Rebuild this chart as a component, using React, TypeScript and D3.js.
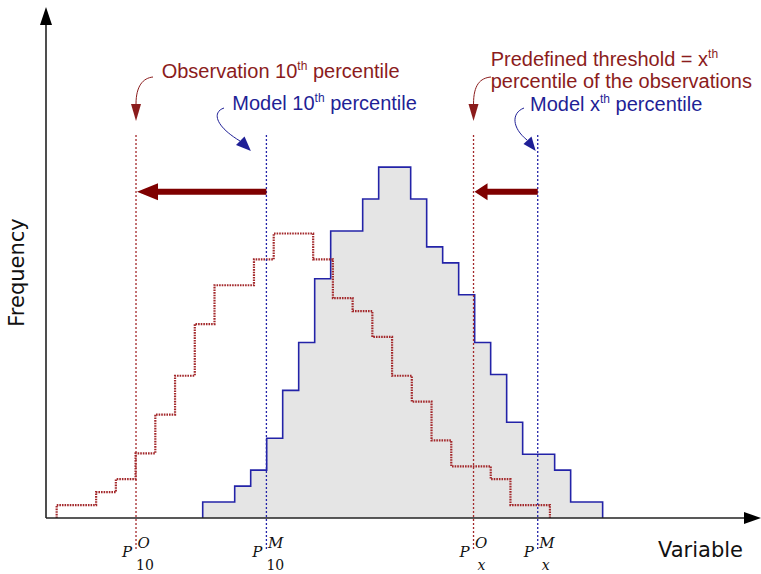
import { area, curveStepAfter, line, scaleLinear } from "d3";

// same histogram shape, drawn as observation and as model
const observationCounts = [1, 1, 2, 3, 5, 8, 11, 15, 18, 18, 20, 22, 22, 20, 17, 16, 14, 11, 9, 6, 4, 4, 3, 1, 1];
const modelCounts = [1, 1, 2, 3, 5, 8, 11, 15, 18, 18, 20, 22, 22, 20, 17, 16, 14, 11, 9, 6, 4, 4, 3, 1, 1];
const observationBins = [1.5, 2.775]; // start, width
const modelBins = [22.04, 2.25];

const percentileValues = [12.66, 31.0, 60.13, 69.16];
const percentileSeries = ["obs", "model", "obs", "model"];
const percentileSup = ["O", "M", "O", "M"];
const percentileSub = ["10", "10", "x", "x"];

const RED = "#8b1c1c";
const RED_LINE = "#a3282b";
const BLUE = "#1f1f96";
const BLUE_LINE = "#2323a8";
const ARROW = "#7f0000";

type Pt = [number, number];

function stepPoints(counts: number[], start: number, width: number): Pt[] {
  const total = counts.reduce((a, b) => a + b, 0);
  const pts: Pt[] = [[start, 0]];
  counts.forEach((c, i) => pts.push([start + i * width, c / (total * width)]));
  pts.push([start + counts.length * width, 0]);
  return pts;
}

export default function App() {
  const width = 761;
  const height = 574;
  const baseY = 518;

  const x = scaleLinear().domain([0, 100]).range([46, 757]);
  const y = scaleLinear().domain([0, 0.0564]).range([baseY, 8]);

  const stepLine = line<Pt>()
    .x((d) => x(d[0]))
    .y((d) => y(d[1]))
    .curve(curveStepAfter);
  const stepArea = area<Pt>()
    .x((d) => x(d[0]))
    .y0(y(0))
    .y1((d) => y(d[1]))
    .curve(curveStepAfter);

  const obsPts = stepPoints(observationCounts, observationBins[0], observationBins[1]);
  const modelPts = stepPoints(modelCounts, modelBins[0], modelBins[1]);

  const px = percentileValues.map((v) => x(v));
  const arrowY = 191.7;

  const bigArrow = (from: number, to: number, head: number) => {
    const h = 8.5;
    const s = 3;
    return `M${from},${arrowY - s} L${to + head},${arrowY - s} L${to + head},${arrowY - h} L${to},${arrowY} L${to + head},${arrowY + h} L${to + head},${arrowY + s} L${from},${arrowY + s} Z`;
  };

  const sansText = { fontFamily: "'Liberation Sans', Arial, sans-serif", fontSize: 20 };
  const serif = { fontFamily: "'DejaVu Serif', serif", fontSize: 15, fill: "#111" };

  return (
    <div style={{ position: "absolute", left: 0, top: 0 }}>
      <svg width={width} height={height} style={{ display: "block", background: "#fff" }}>
        {/* model histogram */}
        <path d={stepArea(modelPts) ?? ""} fill="#e5e5e5" />
        <path d={stepLine(modelPts) ?? ""} fill="none" stroke={BLUE_LINE} strokeWidth={1.6} />
        {/* observation histogram */}
        <path
          d={stepLine(obsPts) ?? ""}
          fill="none"
          stroke={RED_LINE}
          strokeWidth={2.2}
          strokeDasharray="1.6 1"
        />

        {/* axes */}
        <line x1={46} x2={46} y1={baseY} y2={22} stroke="#222" strokeWidth={1.6} />
        <path d="M40,25 L46,7 L52,25 Z" fill="#000" />
        <line x1={46} x2={746} y1={baseY} y2={baseY} stroke="#222" strokeWidth={1.6} />
        <path d={`M744,${baseY - 6} L761,${baseY} L744,${baseY + 6} Z`} fill="#000" />

        {/* percentile lines */}
        {px.map((p, i) => (
          <line
            key={i}
            x1={p}
            x2={p}
            y1={135}
            y2={550}
            stroke={percentileSeries[i] === "obs" ? RED_LINE : BLUE_LINE}
            strokeWidth={1.3}
            strokeDasharray="2 2"
          />
        ))}

        {/* shift arrows */}
        <path d={bigArrow(px[1], px[0] + 1, 21)} fill={ARROW} />
        <path d={bigArrow(px[3], px[2] + 1, 13)} fill={ARROW} />

        {/* percentile tick labels */}
        {px.map((p, i) => (
          <g key={i}>
            <text x={p - 4} y={557} textAnchor="end" fontStyle="italic" {...serif}>
              P
            </text>
            <text x={p + 1.5} y={548} fontStyle="italic" {...serif}>
              {percentileSup[i]}
            </text>
            <text
              x={p + (percentileSub[i] === "x" ? 4 : 0)}
              y={569.5}
              fontStyle={percentileSub[i] === "x" ? "italic" : "normal"}
              {...serif}
              fontSize={14}
            >
              {percentileSub[i]}
            </text>
          </g>
        ))}

        {/* axis titles */}
        <text x={658} y={556.7} fontFamily="'DejaVu Sans', sans-serif" fontSize={21} fill="#111">
          Variable
        </text>
        <text
          transform="translate(23.5,272.5) rotate(-90)"
          textAnchor="middle"
          fontFamily="'DejaVu Sans', sans-serif"
          fontSize={21}
          fill="#111"
        >
          Frequency
        </text>

        {/* annotations */}
        <text x={161.7} y={78.3} fill={RED} {...sansText}>
          Observation 10
          <tspan dy={-8} fontSize={12}>
            th
          </tspan>
          <tspan dy={8}>{" percentile"}</tspan>
        </text>
        <path d={`M153,77 C143,78 ${px[0]},86 ${px[0]},104`} fill="none" stroke={RED} strokeWidth={1} />
        <path d={`M${px[0] - 5},104 L${px[0] + 5},104 L${px[0]},121 Z`} fill={RED} />

        <text x={232.3} y={110} fill={BLUE} {...sansText}>
          Model 10
          <tspan dy={-8} fontSize={12}>
            th
          </tspan>
          <tspan dy={8}>{" percentile"}</tspan>
        </text>
        <path d="M224,108 C212,112 215,126 240,141" fill="none" stroke={BLUE} strokeWidth={1} />
        <path d={`M236,145 L244.5,136.5 L${px[1] - 15.5},151 Z`} fill={BLUE} />

        <text x={490.7} y={65.5} fill={RED} {...sansText}>
          Predefined threshold = x
          <tspan dy={-8} fontSize={12}>
            th
          </tspan>
        </text>
        <text x={490.7} y={87.5} fill={RED} {...sansText}>
          percentile of the observations
        </text>
        <path d={`M491,77 C480,78 ${px[2]},85 ${px[2]},104`} fill="none" stroke={RED} strokeWidth={1} />
        <path d={`M${px[2] - 5},104 L${px[2] + 5},104 L${px[2]},121 Z`} fill={RED} />

        <text x={530} y={111} fill={BLUE} {...sansText}>
          Model x
          <tspan dy={-8} fontSize={12}>
            th
          </tspan>
          <tspan dy={8}>{" percentile"}</tspan>
        </text>
        <path d="M524,108 C511,113 512,128 527,140" fill="none" stroke={BLUE} strokeWidth={1} />
        <path d={`M523.5,144 L531.5,136.5 L${px[3] - 2},151 Z`} fill={BLUE} />
      </svg>
    </div>
  );
}
